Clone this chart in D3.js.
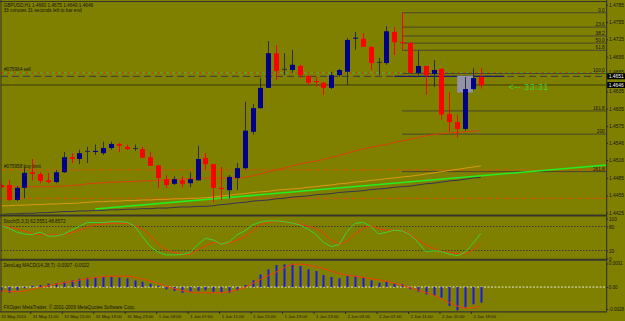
<!DOCTYPE html>
<html lang="en">
<head>
<meta charset="UTF-8">
<title>GBPUSD,H1</title>
<script src="https://d3js.org/d3.v7.min.js"></script>
<style>
    body { margin: 0; background: #808000; }
    svg { display: block; font-family: "Liberation Sans", Arial, sans-serif; }
    .tiny { font-size: 4.7px; fill: #141414; }
</style>
</head>
<body>
<div id="chart"></div>
<script>
// ---- data ----
const startTime = new Date(2010, 4, 31, 7);   // first visible H1 bar

const opens  = [1.4473,1.4473,1.4447,1.4468,1.4495,1.4492,1.4481,1.4478,1.4495,1.4521,1.4518,1.4532,1.4530,1.4528,1.4537,1.4544,1.4539,1.4537,1.4535,1.4521,1.4507,1.4483,1.4475,1.4481,1.4476,1.4481,1.4520,1.4509,1.4468,1.4464,1.4485,1.4502,1.4565,1.4606,1.4641,1.4701,1.4674,1.4672,1.4679,1.4662,1.4653,1.4650,1.4641,1.4663,1.4669,1.4727,1.4726,1.4712,1.4686,1.4684,1.4738,1.4720,1.4719,1.4667,1.4679,1.4665,1.4674,1.4596,1.4582,1.4570,1.4639,1.4660];
const highs  = [1.4476,1.4481,1.4471,1.4504,1.4518,1.4495,1.4494,1.4499,1.4530,1.4528,1.4534,1.4539,1.4543,1.4548,1.4548,1.4546,1.4543,1.4543,1.4539,1.4530,1.4507,1.4490,1.4488,1.4488,1.4495,1.4541,1.4528,1.4509,1.4504,1.4490,1.4511,1.4617,1.4613,1.4658,1.4722,1.4715,1.4701,1.4707,1.4681,1.4663,1.4660,1.4651,1.4669,1.4674,1.4727,1.4738,1.4736,1.4713,1.4693,1.4748,1.4746,1.4771,1.4720,1.4705,1.4679,1.4689,1.4675,1.4634,1.4595,1.4660,1.4675,1.4675];
const lows   = [1.4468,1.4445,1.4445,1.4450,1.4481,1.4476,1.4476,1.4476,1.4494,1.4511,1.4509,1.4511,1.4525,1.4525,1.4534,1.4530,1.4534,1.4532,1.4520,1.4506,1.4468,1.4468,1.4473,1.4469,1.4469,1.4481,1.4499,1.4443,1.4447,1.4450,1.4464,1.4500,1.4560,1.4605,1.4641,1.4655,1.4663,1.4667,1.4658,1.4646,1.4643,1.4629,1.4639,1.4660,1.4646,1.4707,1.4712,1.4672,1.4663,1.4681,1.4698,1.4707,1.4667,1.4663,1.4629,1.4643,1.4586,1.4565,1.4555,1.4567,1.4637,1.4640];
const closes = [1.4469,1.4447,1.4468,1.4494,1.4492,1.4480,1.4478,1.4495,1.4521,1.4518,1.4528,1.4532,1.4532,1.4537,1.4544,1.4541,1.4535,1.4537,1.4520,1.4506,1.4485,1.4473,1.4483,1.4475,1.4483,1.4518,1.4509,1.4468,1.4466,1.4487,1.4502,1.4567,1.4606,1.4641,1.4701,1.4670,1.4674,1.4681,1.4663,1.4650,1.4651,1.4641,1.4663,1.4672,1.4724,1.4728,1.4712,1.4684,1.4686,1.4739,1.4720,1.4719,1.4667,1.4679,1.4663,1.4672,1.4595,1.4582,1.4570,1.4639,1.4658,1.4646];

// moving averages on the price panel
const maRed  = [1.4470,1.4470,1.4470,1.4470,1.4470,1.4470,1.4470,1.4471,1.4471,1.4472,1.4473,1.4475,1.4476,1.4477,1.4478,1.4478,1.4479,1.4479,1.4480,1.4480,1.4481,1.4482,1.4482,1.4483,1.4484,1.4485,1.4485,1.4485,1.4485,1.4485,1.4485,1.4486,1.4489,1.4492,1.4496,1.4499,1.4502,1.4506,1.4509,1.4512,1.4514,1.4517,1.4521,1.4524,1.4528,1.4532,1.4535,1.4538,1.4541,1.4543,1.4547,1.4549,1.4552,1.4555,1.4558,1.4560,1.4562,1.4563,1.4564,1.4565,1.4566,1.4567];
const maGold = [1.4437,1.4437,1.4438,1.4438,1.4439,1.4439,1.4440,1.4440,1.4441,1.4441,1.4442,1.4443,1.4444,1.4444,1.4445,1.4445,1.4446,1.4446,1.4447,1.4447,1.4448,1.4448,1.4449,1.4449,1.4450,1.4450,1.4451,1.4452,1.4454,1.4455,1.4457,1.4458,1.4460,1.4461,1.4462,1.4464,1.4465,1.4466,1.4467,1.4469,1.4470,1.4472,1.4473,1.4475,1.4476,1.4478,1.4479,1.4481,1.4482,1.4484,1.4485,1.4487,1.4488,1.4490,1.4492,1.4494,1.4496,1.4498,1.4500,1.4502,1.4504,1.4506];
const maDark = [1.4422,1.4423,1.4423,1.4424,1.4424,1.4425,1.4425,1.4426,1.4427,1.4427,1.4428,1.4428,1.4429,1.4429,1.4430,1.4430,1.4431,1.4431,1.4432,1.4432,1.4433,1.4433,1.4434,1.4435,1.4435,1.4436,1.4436,1.4437,1.4439,1.4440,1.4442,1.4443,1.4445,1.4446,1.4447,1.4449,1.4450,1.4452,1.4453,1.4454,1.4456,1.4457,1.4458,1.4460,1.4461,1.4462,1.4463,1.4465,1.4466,1.4467,1.4469,1.4470,1.4471,1.4473,1.4475,1.4476,1.4478,1.4480,1.4481,1.4483,1.4485,1.4486];

// green trend line (ray): [bar index, price]
const trendPoints = [[12, 1.44315], [61, 1.44889]];

// stochastic (5,3,3)
const stochMain   = [82.5,76,66,61,60,66,56,56,61,71,81,90,90,90,92,92,91,81,55,29.5,16,9,9,10,14,34,50.5,46,36,41,59,69,84,91,94,94,92,89,84,74,61,40,29.5,35,67,87.5,90.5,81,61,65.5,71,69,60,41,17.5,19.5,17.5,11,7,15,38,62];
const stochSignal = [84,79,74,69,61,60,59,59,60,64,71,77.5,84,86,88,88,88,82.5,74,57.5,36,22.5,15,10.5,10.5,21,31,40.5,38,38,46,54,70,84,91,92,92,89,86,81,76,64,46,36,42.5,61,75,82,75,71,71,70,63,46,35,25,17.5,15.5,12.5,11,21,38];

// ZeroLag MACD (14,28,7)
const macdHist   = [-0.00055,-0.00067,-0.00039,-0.00015,0.00015,0.00023,0.00039,0.00043,0.00062,0.00078,0.00097,0.00109,0.00109,0.00117,0.00117,0.00109,0.00102,0.00078,0.00062,0.00039,0.00015,-0.00027,-0.00047,-0.00067,-0.00055,-0.00047,-0.00039,-0.00055,-0.00067,-0.00067,-0.00039,0.00023,0.00078,0.00148,0.00207,0.00257,0.00265,0.00272,0.00245,0.00207,0.00187,0.0014,0.00117,0.00102,0.00128,0.00128,0.00109,0.00078,0.0005,0.00062,0.00039,0.00032,-0.00027,-0.00055,-0.00085,-0.00105,-0.00125,-0.00222,-0.00272,-0.00242,-0.00202,-0.00183];
const macdSignal = [-0.00047,-0.0005,-0.00055,-0.00047,-0.00029,-0.00006,0.00012,0.00033,0.0005,0.00064,0.00082,0.00097,0.00111,0.0012,0.00126,0.00128,0.00126,0.00117,0.00093,0.00072,0.00041,0.00012,-0.00018,-0.00041,-0.00056,-0.00067,-0.00067,-0.00067,-0.00064,-0.00058,-0.00035,-0.00006,0.00041,0.00088,0.00134,0.00175,0.00225,0.00263,0.00269,0.0026,0.00239,0.00216,0.00187,0.00158,0.0014,0.00128,0.00114,0.00099,0.00085,0.00068,0.00047,0.00021,-0.00008,-0.00035,-0.00062,-0.00093,-0.0014,-0.00181,-0.00222,-0.00245,-0.00245,-0.00222];

// axes
const priceTicks = [1.4785,1.4755,1.4725,1.4695,1.4665,1.4635,1.4605,1.4575,1.4546,1.4516,1.4485,1.4455,1.4425];
const timeTickBars = [0,4,8,12,16,20,24,28,32,36,40,44,48,52,56,60];
const timeTickLabels = ["31 May 2010","31 May 11:00","31 May 15:00","31 May 19:00","31 May 23:00","1 Jun 03:00","1 Jun 07:00","1 Jun 11:00","1 Jun 15:00","1 Jun 19:00","1 Jun 23:00","2 Jun 03:00","2 Jun 07:00","2 Jun 11:00","2 Jun 15:00","2 Jun 19:00"];
const stochTicks = [100, 80, 20, 0];
const stochLevels = [80, 20];
const macdTicks = [0.0031, 0, -0.0028];
const macdTickLabels = ["0.0031", "0.00", "-0.0028"];

// Fibonacci retracement anchored on bar 51
const fibBar = 51;
const fibHigh = 1.4771, fibLow = 1.4666;
const fibLevels = [0, 23.6, 38.2, 50.0, 61.8, 100.0, 161.8, 200, 261.8];
const fibLabels = ["0.0","23.6","38.2","50.0","61.8","100.0","161.8","200","261.8"];

// horizontal lines / orders
const bidPrice = 1.4646, askPrice = 1.4651;
const sellOrderPrice = 1.4667, sellStopPrice = 1.4661;
const buyLimitPrice = 1.4499, buyStopPrice = 1.4450;
const sellSegment = [50, 64];          // navy segment on the dashed line (bars)
const boxArea = {from: 58, to: 60, top: 1.4662, bottom: 1.4633};

const headerLines = ["GBPUSD,H1  1.4660 1.4675 1.4640 1.4646", "33 minutes 31 seconds left to bar end"];
const timerText = "<-- 33:31";

// ---- layout ----
const W = 625, H = 321;
const plotL = 1, plotR = 606.7;
const main = {top: 2, bottom: 214.5};
const stoch = {top: 216.5, bottom: 259};
const macd = {top: 260.5, bottom: 311.5};

const n = opens.length;
const times = d3.range(n).map(i => d3.timeHour.offset(startTime, i));
const bars = times.map((t, i) => ({t, i, o: opens[i], h: highs[i], l: lows[i], c: closes[i]}));
const barTime = i => d3.timeHour.offset(startTime, i);

const x = d3.scaleTime().domain([times[0], times[n - 1]]).range([0.8, 480.8]);
const y = d3.scaleLinear().domain([1.4425, 1.4785]).range([212.7, 4.7]);
const ys = d3.scaleLinear().domain([0, 100]).range([258.5, 218.5]);
const ym = d3.scaleLinear().domain([-0.0028, 0.0031]).range([311, 260.5]);

const svg = d3.select('#chart').append('svg').attr('width', W).attr('height', H);
svg.append('rect').attr('width', W).attr('height', H).attr('fill', '#808000');

const defs = svg.append('defs');
[['clipMain', main], ['clipStoch', stoch], ['clipMacd', macd]].forEach(([id, p]) => {
    defs.append('clipPath').attr('id', id).append('rect')
        .attr('x', plotL).attr('y', p.top).attr('width', plotR - plotL).attr('height', p.bottom - p.top);
});

const gMain = svg.append('g').attr('clip-path', 'url(#clipMain)');
const gStoch = svg.append('g').attr('clip-path', 'url(#clipStoch)');
const gMacd = svg.append('g').attr('clip-path', 'url(#clipMacd)');

// horizontal lines across the price panel
function hline(price, color, dash, width) {
    gMain.append('line')
        .attr('x1', plotL).attr('x2', plotR)
        .attr('y1', y(price)).attr('y2', y(price))
        .attr('stroke', color).attr('stroke-width', width || 1)
        .attr('stroke-dasharray', dash || null);
}
hline(buyLimitPrice, '#e04a08', '4,2,1,2');
hline(buyStopPrice, '#e04a08', '4,2,1,2');
hline(sellOrderPrice, '#d83a10', '3,3');
gMain.append('line').attr('x1', plotL + 3).attr('x2', plotR)
    .attr('y1', y(sellOrderPrice)).attr('y2', y(sellOrderPrice))
    .attr('stroke', '#30c030').attr('stroke-dasharray', '3,3');
hline(sellStopPrice, '#3a3a3a', '7,4');
hline(bidPrice, '#3a3a10', null, 1);

gMain.append('line')
    .attr('x1', x(barTime(sellSegment[0]))).attr('x2', x(barTime(sellSegment[1])))
    .attr('y1', y(sellStopPrice)).attr('y2', y(sellStopPrice))
    .attr('stroke', '#1a1a70').attr('stroke-width', 1.2);

// fibonacci levels
fibLevels.forEach((lv, k) => {
    const p = fibHigh - lv / 100 * (fibHigh - fibLow);
    gMain.append('line')
        .attr('x1', x(barTime(fibBar))).attr('x2', plotR)
        .attr('y1', y(p)).attr('y2', y(p))
        .attr('stroke', '#46462e').attr('stroke-width', 1);
    gMain.append('text').attr('class', 'tiny')
        .attr('x', plotR - 2).attr('y', y(p) - 1)
        .attr('text-anchor', 'end').text(fibLabels[k]);
});

// moving averages
const line = d3.line().x((d, i) => x(times[i])).y(d => y(d));
gMain.append('path').attr('d', line(maDark)).attr('fill', 'none').attr('stroke', '#34344e').attr('stroke-width', 1);
gMain.append('path').attr('d', line(maGold)).attr('fill', 'none').attr('stroke', '#d89a10').attr('stroke-width', 1);
gMain.append('path').attr('d', line(maRed)).attr('fill', 'none').attr('stroke', '#d8400c').attr('stroke-width', 1);

// trend line ray to the right edge
const t0 = trendPoints[0], t1 = trendPoints[1];
const slope = (t1[1] - t0[1]) / (t1[0] - t0[0]);
const rayEnd = (x.invert(plotR) - startTime) / 3600000;
gMain.append('line')
    .attr('x1', x(barTime(t0[0]))).attr('y1', y(t0[1]))
    .attr('x2', plotR).attr('y2', y(t0[1] + slope * (rayEnd - t0[0])))
    .attr('stroke', '#22ee22').attr('stroke-width', 1.6);

// shaded rectangle object
gMain.append('rect')
    .attr('x', x(barTime(boxArea.from))).attr('width', x(barTime(boxArea.to)) - x(barTime(boxArea.from)))
    .attr('y', y(boxArea.top)).attr('height', y(boxArea.bottom) - y(boxArea.top))
    .attr('fill', '#9292a8');

// candles
const up = '#000088', down = '#ff0000', upWick = '#2c2c44';
gMain.selectAll('.wick').data(bars).enter().append('line')
    .attr('class', 'wick')
    .attr('x1', d => Math.round(x(d.t)) + 0.5).attr('x2', d => Math.round(x(d.t)) + 0.5)
    .attr('y1', d => y(d.h)).attr('y2', d => y(d.l))
    .attr('stroke', d => d.c < d.o ? down : upWick).attr('stroke-width', 1);
gMain.selectAll('.body').data(bars).enter().append('rect')
    .attr('class', 'body')
    .attr('x', d => Math.round(x(d.t)) - 2)
    .attr('width', 5)
    .attr('y', d => y(Math.max(d.o, d.c)))
    .attr('height', d => Math.max(1, Math.abs(y(d.o) - y(d.c))))
    .attr('fill', d => d.c < d.o ? down : (d.c === d.o ? upWick : up));

// texts on price panel
headerLines.forEach((s, k) => {
    svg.append('text').attr('class', 'tiny').attr('x', 3.5).attr('y', 7 + k * 5).text(s);
});
svg.append('text').attr('class', 'tiny').attr('x', 4).attr('y', y(sellOrderPrice) - 1.5).text('#075964 sell');
svg.append('text').attr('class', 'tiny').attr('x', 4).attr('y', y(buyLimitPrice) - 1.5).text('#075958 buy limit');
svg.append('text')
    .attr('x', x(times[n - 1]) + 28).attr('y', y(bidPrice) + 5)
    .attr('font-size', 8.6).attr('fill', '#3ad23a').attr('letter-spacing', 0.6)
    .text(timerText);

// stochastic panel
stochLevels.forEach(v => {
    gStoch.append('line').attr('x1', plotL).attr('x2', plotR)
        .attr('y1', ys(v)).attr('y2', ys(v))
        .attr('stroke', '#3c3c28').attr('stroke-dasharray', '1.5,1.5');
});
const sLine = d3.line().x((d, i) => x(times[i])).y(d => ys(d));
gStoch.append('path').attr('d', sLine(stochSignal)).attr('fill', 'none').attr('stroke', '#f03c0a').attr('stroke-width', 1);
gStoch.append('path').attr('d', sLine(stochMain)).attr('fill', 'none').attr('stroke', '#3ad23a').attr('stroke-width', 1);
svg.append('text').attr('class', 'tiny').attr('x', 3.5).attr('y', 222.5).text('Stoch(5,3,3) 62.5551 48.8572');

// MACD panel
gMacd.append('line').attr('x1', plotL).attr('x2', plotR)
    .attr('y1', ym(0)).attr('y2', ym(0))
    .attr('stroke', '#e8e8d0').attr('stroke-dasharray', '2,1.5');
gMacd.selectAll('.hist').data(macdHist).enter().append('rect')
    .attr('class', 'hist')
    .attr('x', (d, i) => Math.round(x(times[i])) - 0.5)
    .attr('width', 2)
    .attr('y', d => Math.min(ym(0), ym(d)))
    .attr('height', d => Math.abs(ym(d) - ym(0)))
    .attr('fill', '#1818e8');
const mLine = d3.line().x((d, i) => x(times[i])).y(d => ym(d));
gMacd.append('path').attr('d', mLine(macdSignal)).attr('fill', 'none').attr('stroke', '#f03c0a').attr('stroke-width', 1);
svg.append('text').attr('class', 'tiny').attr('x', 3.5).attr('y', 266.5).text('ZeroLag MACD(14,28,7) -0.0007 -0.0022');
svg.append('text').attr('class', 'tiny').attr('x', 3.5).attr('y', 309).text('FXOpen MetaTrader, \u00a9 2001-2009 MetaQuotes Software Corp.');

// frame and separators
const frame = svg.append('g').attr('stroke', '#36362a').attr('fill', 'none');
frame.append('line').attr('x1', 0).attr('x2', plotR).attr('y1', 1.5).attr('y2', 1.5);
frame.append('line').attr('x1', 1).attr('x2', 1).attr('y1', 0).attr('y2', macd.bottom);
frame.append('line').attr('x1', 0).attr('x2', plotR).attr('y1', 215.5).attr('y2', 215.5).attr('stroke-width', 2);
frame.append('line').attr('x1', 0).attr('x2', plotR).attr('y1', 259.8).attr('y2', 259.8).attr('stroke-width', 2);
frame.append('line').attr('x1', 0).attr('x2', plotR).attr('y1', 311.8).attr('y2', 311.8).attr('stroke-width', 1.2);

// right price axis
const axisStyle = (size) => g => {
    g.select('.domain').attr('stroke', '#2c2c2c');
    g.selectAll('.tick line').attr('stroke', '#2c2c2c');
    g.selectAll('.tick text').attr('font-size', size).attr('fill', '#141414').attr('font-family', '"Liberation Sans", Arial, sans-serif');
};
svg.append('g').attr('transform', `translate(${plotR},0)`)
    .call(d3.axisRight(y).tickValues(priceTicks).tickSize(1.5).tickPadding(0.8).tickFormat(d3.format('.4f')))
    .call(g => g.select('.domain').attr('d', `M0,0V${macd.bottom}`))
    .call(axisStyle(4.9))
    // this label sits right above the bid/ask boxes
    .call(g => g.selectAll('.tick').filter(d => d === 1.4665).select('text').attr('y', -2.6));
svg.append('g').attr('transform', `translate(${plotR},0)`)
    .call(d3.axisRight(ys).tickValues(stochTicks).tickSize(1.5).tickPadding(0.8))
    .call(g => g.select('.domain').remove())
    .call(axisStyle(4.7));
svg.append('g').attr('transform', `translate(${plotR},0)`)
    .call(d3.axisRight(ym).tickValues(macdTicks).tickSize(1.5).tickPadding(0.6).tickFormat((d, i) => macdTickLabels[i]))
    .call(g => g.select('.domain').remove())
    .call(axisStyle(4.5))
    .call(g => {
        g.selectAll('.tick').filter(d => d > 0).attr('transform', d => `translate(0,${ym(d) + 3.5})`);
        g.selectAll('.tick').filter(d => d < 0).attr('transform', d => `translate(0,${ym(d) - 1.5})`);
    });

// bid / ask boxes
[[askPrice, y(bidPrice) - 8.7], [bidPrice, y(bidPrice)]].forEach(([p, cy]) => {
    svg.append('rect').attr('x', plotR + 0.5).attr('y', cy - 3).attr('width', W - plotR).attr('height', 6).attr('fill', '#000');
    svg.append('text').attr('x', plotR + 2).attr('y', cy + 1.8)
        .attr('font-size', 4.9).attr('fill', '#fff').text(d3.format('.4f')(p));
});

// time axis
svg.append('g').attr('transform', `translate(0,${macd.bottom})`)
    .call(d3.axisBottom(x).tickValues(timeTickBars.map(barTime)).tickSize(2.5).tickFormat((d, i) => timeTickLabels[i]))
    .call(g => g.select('.domain').remove())
    .call(g => g.selectAll('.tick line').attr('stroke', '#2c2c2c').attr('transform', 'translate(-2,0)'))
    .call(g => g.selectAll('.tick text')
        .attr('text-anchor', 'start').attr('x', 0).attr('y', 3).attr('dy', '0.71em')
        .attr('font-size', 4.3).attr('fill', '#141414').attr('font-family', '"Liberation Sans", Arial, sans-serif'));
</script>
</body>
</html>
